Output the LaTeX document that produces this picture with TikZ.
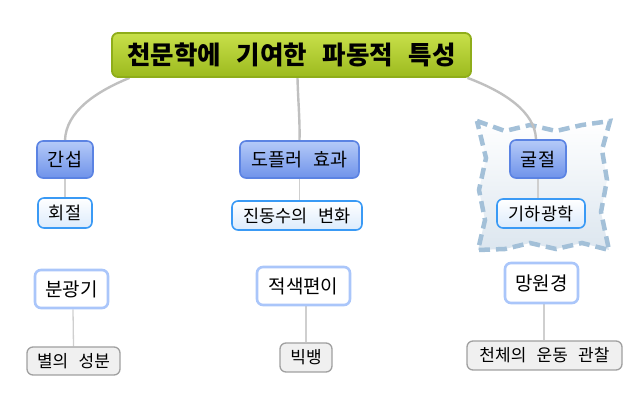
\documentclass[tikz,border=0pt]{standalone}
\usepackage{fontspec}
\setmainfont{Noto Sans CJK KR}[WordSpace=2.7]
\usetikzlibrary{backgrounds}
\definecolor{rootTop}{HTML}{C8E04A}
\definecolor{rootBot}{HTML}{9CBA1E}
\definecolor{rootLine}{HTML}{8FAD1A}
\definecolor{blueTop}{HTML}{B5CAF8}
\definecolor{blueBot}{HTML}{6F93EA}
\definecolor{blueLine}{HTML}{5B83E3}
\definecolor{subBot}{HTML}{DCEBFC}
\definecolor{subLine}{HTML}{3A9AF5}
\definecolor{paleLine}{HTML}{AAC6FA}
\definecolor{leafFill}{HTML}{F0F0F0}
\definecolor{leafLine}{HTML}{A0A0A0}
\definecolor{mainConn}{HTML}{C0C0C0}
\definecolor{subConn}{HTML}{CFCFCF}
\definecolor{cloudLine}{HTML}{A3C0D8}
\definecolor{cloudBot}{HTML}{DCE6EF}
\tikzset{
  base/.style={inner sep=0pt, align=center, text=black},
  rootbox/.style={base, rounded corners=6pt, top color=rootTop, bottom color=rootBot, draw=rootLine, line width=1.8pt, font=\fontsize{25.5}{28}\selectfont\bfseries},
  topicbox/.style={base, rounded corners=6pt, top color=blueTop, bottom color=blueBot, draw=blueLine, line width=1.6pt, font=\fontsize{18.5}{21}\selectfont},
  subbox/.style={base, rounded corners=6pt, top color=white, bottom color=subBot, draw=subLine, line width=1.6pt, font=\fontsize{17.5}{20}\selectfont},
  palebox/.style={base, rounded corners=6pt, fill=white, draw=paleLine, line width=2.6pt, font=\fontsize{19}{22}\selectfont},
  leafbox/.style={base, rounded corners=6pt, fill=leafFill, draw=leafLine, line width=1.3pt, font=\fontsize{17}{20}\selectfont},
  mainline/.style={draw=mainConn, line width=2.4pt},
  subline/.style={draw=subConn, line width=1.3pt},
}
\begin{document}
\begin{tikzpicture}[x=1pt,y=-1pt]
\useasboundingbox (0,0) rectangle (635,403);
% nodes
\node[rootbox, minimum width=359pt, minimum height=44pt] (root) at (291.5,55) {천문학에 기여한 파동적 특성};
\node[topicbox, minimum width=56pt, minimum height=37pt] (gs) at (65,159.5) {간섭};
\node[topicbox, minimum width=119pt, minimum height=37pt] (dp) at (299.5,159.5) {도플러 효과};
\node[topicbox, minimum width=56pt, minimum height=38pt] (gj) at (538,159) {굴절};
\node[subbox, minimum width=54pt, minimum height=30pt] (hj) at (65,213) {회절};
\node[subbox, minimum width=130pt, minimum height=29pt] (jd) at (297,215.5) {진동수의 변화};
\node[subbox, minimum width=88pt, minimum height=29pt] (gh) at (541,213.5) {기하광학};
\node[palebox, minimum width=73pt, minimum height=38pt] (bg) at (71.5,289) {분광기};
\node[leafbox, minimum width=93pt, minimum height=28pt] (bs) at (73.5,361) {별의 성분};
\node[palebox, minimum width=93pt, minimum height=38pt] (js) at (303.5,286) {적색편이};
\node[leafbox, minimum width=52pt, minimum height=29pt] (bb) at (306,357.5) {빅뱅};
\node[palebox, minimum width=73pt, minimum height=40pt] (mw) at (541.5,283) {망원경};
\node[leafbox, minimum width=155pt, minimum height=29pt] (cc) at (544.5,355.5) {천체의 운동 관찰};
% background: cloud and connectors
\begin{scope}[on background layer]
\path[top color=white, bottom color=cloudBot, draw=cloudLine, line width=4.5pt, dash pattern=on 11pt off 6pt, line join=miter]
  (477,121) -- (505,131) -- (530,125) -- (556,131) -- (582,125) -- (610,121)
  -- (602,150) -- (607,180) -- (601,212) -- (609,250)
  -- (582,243) -- (556,249) -- (530,243) -- (505,249) -- (478,250)
  -- (485,220) -- (479,190) -- (486,158) -- cycle;
\draw[mainline] ([xshift=-162pt]root.south) .. controls (95,92) and (66,112) .. (gs.north);
\draw[mainline] ([xshift=6pt]root.south) .. controls (298,100) and (300,120) .. (dp.north);
\draw[mainline] ([xshift=176pt]root.south) .. controls (505,92) and (535,112) .. ([xshift=-2pt]gj.north);
\draw[subline] (gs.south) -- (hj.north);
\draw[subline] (dp.south) -- ([xshift=2.5pt]jd.north);
\draw[subline] (gj.south) -- ([xshift=-3pt]gh.north);
\draw[subline] ([xshift=1.5pt]bg.south) -- (bs.north);
\draw[subline] ([xshift=2.5pt]js.south) -- (bb.north);
\draw[subline] ([xshift=2.5pt]mw.south) -- ([xshift=-0.5pt]cc.north);
\end{scope}
\end{tikzpicture}
\end{document}
